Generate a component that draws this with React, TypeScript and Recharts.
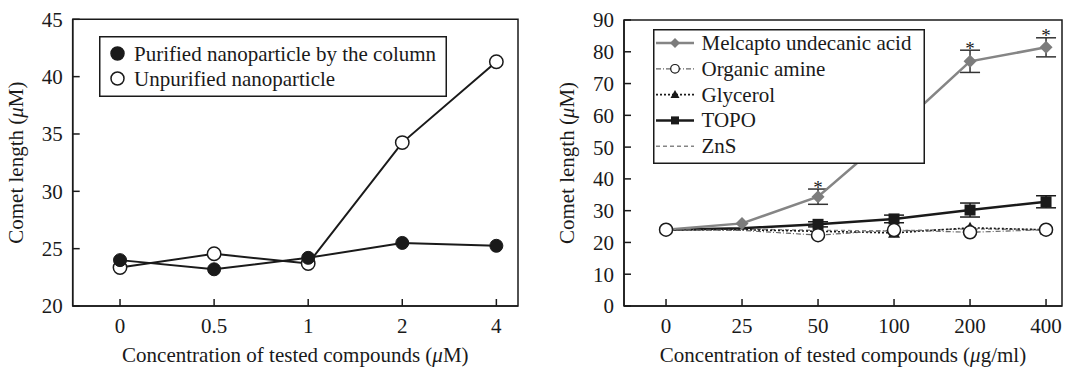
import React from 'react';
import { LineChart, Line, XAxis, YAxis, ReferenceArea, ErrorBar, Legend } from 'recharts';

// ---------- Left panel data ----------
const leftCategories = ['0', '0.5', '1', '2', '4'];
const purified = [24.0, 23.2, 24.2, 25.5, 25.25];
const unpurified = [23.35, 24.55, 23.7, 34.25, 41.3];
const leftYTicks = [20, 25, 30, 35, 40, 45];

// ---------- Right panel data ----------
const rightCategories = ['0', '25', '50', '100', '200', '400'];
const mua = [24, 26, 34.4, 55, 77, 81.4];
const muaErr = [null, null, 2.4, 3, 3.5, 3];
const muaStar = [false, false, true, true, true, true];
const organicAmine = [24, 23.8, 22.3, 23.9, 23.2, 24];
const glycerol = [24, 24, 23.5, 23, 24.6, 24];
const topo = [24, 24.5, 25.7, 27.4, 30.2, 32.8];
const topoErr = [null, null, 0.8, 1.2, 2.2, 1.9];
const zns = [24, 24.2, 23.8, 23.6, 24.3, 24];
const rightYTicks = [0, 10, 20, 30, 40, 50, 60, 70, 80, 90];

const leftData = leftCategories.map((c, i) => ({ i, purified: purified[i], unpurified: unpurified[i] }));
const rightData = rightCategories.map((c, i) => ({
  i,
  mua: mua[i],
  muaErr: muaErr[i],
  star: muaStar[i] ? mua[i] + (muaErr[i] || 0) : null,
  organicAmine: organicAmine[i],
  glycerol: glycerol[i],
  topo: topo[i],
  topoErr: topoErr[i],
  zns: zns[i],
}));

const FONT = 'Liberation Serif, Tinos, Times New Roman, Times, DejaVu Serif, serif';
const FS = 21;
const INK = '#1a1a1a';
const GRAY = '#858585';

const tickStyle = { fill: INK, fontSize: FS, fontFamily: FONT, style: { fontFamily: FONT } };
const axisLineStyle = { stroke: INK, strokeWidth: 1.5 };

const Mu = () => <tspan fontStyle="italic">μ</tspan>;

const yLabel = (baselineX: number) => (props: any) => {
  const vb = props.viewBox || {};
  const x = vb.x + baselineX;
  const y = vb.y + vb.height / 2;
  return (
    <text x={x} y={y} transform={`rotate(-90 ${x} ${y})`} textAnchor="middle" style={{ fontFamily: FONT }} fontSize={FS} fill={INK}>
      Comet length (<Mu />M)
    </text>
  );
};

const xLabel = (unit: React.ReactNode) => (props: any) => {
  const vb = props.viewBox || {};
  const x = vb.x + vb.width / 2;
  const y = vb.y + 55.5;
  return (
    <text x={x} y={y} textAnchor="middle" style={{ fontFamily: FONT }} fontSize={FS} fill={INK}>
      Concentration of tested compounds (<Mu />{unit})
    </text>
  );
};

// ---------- markers (hidden: point indices where the marker sits under another series' marker) ----------
const skip = (p: any, hidden: number[]) => p.cy == null || isNaN(p.cy) || hidden.includes(p.index);
const FilledCircle = (r: number, hidden: number[] = []) => (p: any) =>
  skip(p, hidden) ? <g key={p.index} /> : <circle key={p.index} cx={p.cx} cy={p.cy} r={r} fill={INK} stroke={INK} strokeWidth={1} />;
const OpenCircle = (r: number, hidden: number[] = []) => (p: any) =>
  skip(p, hidden) ? <g key={p.index} /> : <circle key={p.index} cx={p.cx} cy={p.cy} r={r} fill="#fff" stroke={INK} strokeWidth={1.5} />;
const Diamond = (s: number, hidden: number[] = []) => (p: any) =>
  skip(p, hidden) ? <g key={p.index} /> : (
    <path key={p.index} d={`M${p.cx},${p.cy - s}L${p.cx + s},${p.cy}L${p.cx},${p.cy + s}L${p.cx - s},${p.cy}Z`} fill="#7c7c7c" />
  );
const Square = (s: number, hidden: number[] = []) => (p: any) =>
  skip(p, hidden) ? <g key={p.index} /> : <rect key={p.index} x={p.cx - s} y={p.cy - s} width={2 * s} height={2 * s} fill={INK} />;
const Triangle = (s: number, hidden: number[] = []) => (p: any) =>
  skip(p, hidden) ? <g key={p.index} /> : (
    <path key={p.index} d={`M${p.cx},${p.cy - s}L${p.cx + s},${p.cy + s * 0.8}L${p.cx - s},${p.cy + s * 0.8}Z`} fill={INK} />
  );
const Star = (p: any) =>
  p.cy == null || isNaN(p.cy) ? <g key={p.index} /> : (
    <text key={p.index} x={p.cx} y={p.cy + 4.5} textAnchor="middle" style={{ fontFamily: FONT }} fontSize={19} fill={INK}>*</text>
  );

// ---------- legends ----------
const leftSeries = [
  { name: 'Purified nanoparticle by the column', filled: true },
  { name: 'Unpurified nanoparticle', filled: false },
];

const LeftLegend = () => (
  <svg width={348} height={61} style={{ display: 'block' }}>
    <rect x={0.75} y={0.75} width={346.5} height={59.5} fill="#fff" stroke={INK} strokeWidth={1.5} />
    {leftSeries.map((s, k) => {
      const cy = 17.5 + k * 25;
      return (
        <g key={s.name}>
          <circle cx={18.5} cy={cy} r={6.5} fill={s.filled ? INK : '#fff'} stroke={INK} strokeWidth={1.5} />
          <text x={35} y={cy + 7} style={{ fontFamily: FONT }} fontSize={FS} fill={INK}>{s.name}</text>
        </g>
      );
    })}
  </svg>
);

const rightSeries = [
  { name: 'Melcapto undecanic acid', stroke: GRAY, dash: undefined, width: 2.5, marker: 'diamond' },
  { name: 'Organic amine', stroke: '#666', dash: '5 2 1 2', width: 1.2, marker: 'circle' },
  { name: 'Glycerol', stroke: INK, dash: '2 2', width: 1.6, marker: 'triangle' },
  { name: 'TOPO', stroke: INK, dash: undefined, width: 2.5, marker: 'square' },
  { name: 'ZnS', stroke: GRAY, dash: '4 3', width: 1.5, marker: 'none' },
];

const legendMarker = (m: string, cx: number, cy: number) => {
  switch (m) {
    case 'diamond':
      return <path d={`M${cx},${cy - 5}L${cx + 5},${cy}L${cx},${cy + 5}L${cx - 5},${cy}Z`} fill="#7c7c7c" />;
    case 'circle':
      return <circle cx={cx} cy={cy} r={4.3} fill="#fff" stroke={INK} strokeWidth={1.2} />;
    case 'triangle':
      return <path d={`M${cx},${cy - 4.5}L${cx + 4.5},${cy + 3.5}L${cx - 4.5},${cy + 3.5}Z`} fill={INK} />;
    case 'square':
      return <rect x={cx - 4} y={cy - 4} width={8} height={8} fill={INK} />;
    default:
      return null;
  }
};

const RightLegend = () => (
  <svg width={272} height={135} style={{ display: 'block' }}>
    <rect x={0.75} y={0.75} width={270.5} height={133.5} fill="#fff" stroke={INK} strokeWidth={1.5} />
    {rightSeries.map((s, k) => {
      const cy = 14 + k * 25.8;
      return (
        <g key={s.name}>
          <line x1={3} x2={41} y1={cy} y2={cy} stroke={s.stroke} strokeWidth={s.width} strokeDasharray={s.dash} />
          {legendMarker(s.marker, 22, cy)}
          <text x={48.5} y={cy + 7} style={{ fontFamily: FONT }} fontSize={FS} fill={INK}>{s.name}</text>
        </g>
      );
    })}
  </svg>
);

const LEFT_DOMAIN: [number, number] = [-0.503, 4.23];
const RIGHT_DOMAIN: [number, number] = [-0.553, 5.21];

export default function App() {
  return (
    <div style={{ position: 'absolute', left: 0, top: 0, width: 1067, height: 367, background: '#fff', overflow: 'hidden', fontFamily: FONT }}>
      <div style={{ position: 'absolute', left: 0, top: 0 }}>
        <LineChart width={540} height={367} data={leftData} margin={{ top: 19.3, right: 22, left: 0, bottom: 0 }} style={{ fontFamily: FONT }}>
          <XAxis
            dataKey="i"
            type="number"
            domain={LEFT_DOMAIN}
            ticks={[0, 1, 2, 3, 4]}
            interval={0}
            tickFormatter={(v: number) => leftCategories[v]}
            height={61}
            tick={tickStyle}
            tickSize={-7}
            tickMargin={19}
            axisLine={axisLineStyle}
            tickLine={axisLineStyle}
            label={{ content: xLabel('M') } as any}
          />
          <YAxis
            type="number"
            domain={[20, 45]}
            ticks={leftYTicks}
            interval={0}
            width={72.7}
            tick={tickStyle}
            tickSize={-7}
            tickMargin={17}
            axisLine={axisLineStyle}
            tickLine={axisLineStyle}
            label={{ content: yLabel(23.5) } as any}
          />
          <ReferenceArea x1={LEFT_DOMAIN[0]} x2={LEFT_DOMAIN[1]} y1={20} y2={45} fill="none" stroke={INK} strokeWidth={1.5} />
          <Legend
            layout="horizontal"
            verticalAlign="middle"
            align="center"
            content={() => <LeftLegend />}
            wrapperStyle={{ left: 99.3, top: 36.3, width: 348, height: 61 }}
          />
          <Line dataKey="unpurified" name="Unpurified nanoparticle" stroke={INK} strokeWidth={2} dot={OpenCircle(6.7)} isAnimationActive={false} />
          <Line dataKey="purified" name="Purified nanoparticle by the column" stroke={INK} strokeWidth={2} dot={FilledCircle(6.5)} isAnimationActive={false} />
        </LineChart>
      </div>
      <div style={{ position: 'absolute', left: 540, top: 0 }}>
        <LineChart width={527} height={367} data={rightData} margin={{ top: 20, right: 5, left: 0, bottom: 0 }} style={{ fontFamily: FONT }}>
          <XAxis
            dataKey="i"
            type="number"
            domain={RIGHT_DOMAIN}
            ticks={[0, 1, 2, 3, 4, 5]}
            interval={0}
            tickFormatter={(v: number) => rightCategories[v]}
            height={61}
            tick={tickStyle}
            tickSize={-7}
            tickMargin={19}
            axisLine={axisLineStyle}
            tickLine={axisLineStyle}
            label={{ content: xLabel('g/ml') } as any}
          />
          <YAxis
            type="number"
            domain={[0, 90]}
            ticks={rightYTicks}
            interval={0}
            width={84}
            tick={tickStyle}
            tickSize={-7}
            tickMargin={17}
            axisLine={axisLineStyle}
            tickLine={axisLineStyle}
            label={{ content: yLabel(34) } as any}
          />
          <ReferenceArea x1={RIGHT_DOMAIN[0]} x2={RIGHT_DOMAIN[1]} y1={0} y2={90} fill="none" stroke={INK} strokeWidth={1.5} />
          <Legend
            layout="horizontal"
            verticalAlign="middle"
            align="center"
            content={() => <RightLegend />}
            wrapperStyle={{ left: 112.7, top: 29, width: 272, height: 135 }}
          />
          <Line dataKey="zns" name="ZnS" stroke={GRAY} strokeWidth={1.5} strokeDasharray="4 3" dot={false} isAnimationActive={false} />
          <Line dataKey="glycerol" name="Glycerol" stroke={INK} strokeWidth={1.6} strokeDasharray="2 2" dot={Triangle(6, [0, 1])} isAnimationActive={false} />
          <Line dataKey="topo" name="TOPO" stroke={INK} strokeWidth={2.5} dot={Square(5.5, [0, 1])} isAnimationActive={false}>
            <ErrorBar dataKey="topoErr" direction="y" width={10} stroke={INK} strokeWidth={1.5} />
          </Line>
          <Line dataKey="mua" name="Melcapto undecanic acid" stroke={GRAY} strokeWidth={2.5} dot={Diamond(6.5, [0])} isAnimationActive={false}>
            <ErrorBar dataKey="muaErr" direction="y" width={10} stroke="#333" strokeWidth={1.5} />
          </Line>
          <Line dataKey="organicAmine" name="Organic amine" stroke="#666" strokeWidth={1.2} strokeDasharray="5 2 1 2" dot={OpenCircle(6.5, [1])} isAnimationActive={false} />
          <Line dataKey="star" name="significance" stroke="none" legendType="none" dot={Star} activeDot={false} isAnimationActive={false} />
        </LineChart>
      </div>
    </div>
  );
}
